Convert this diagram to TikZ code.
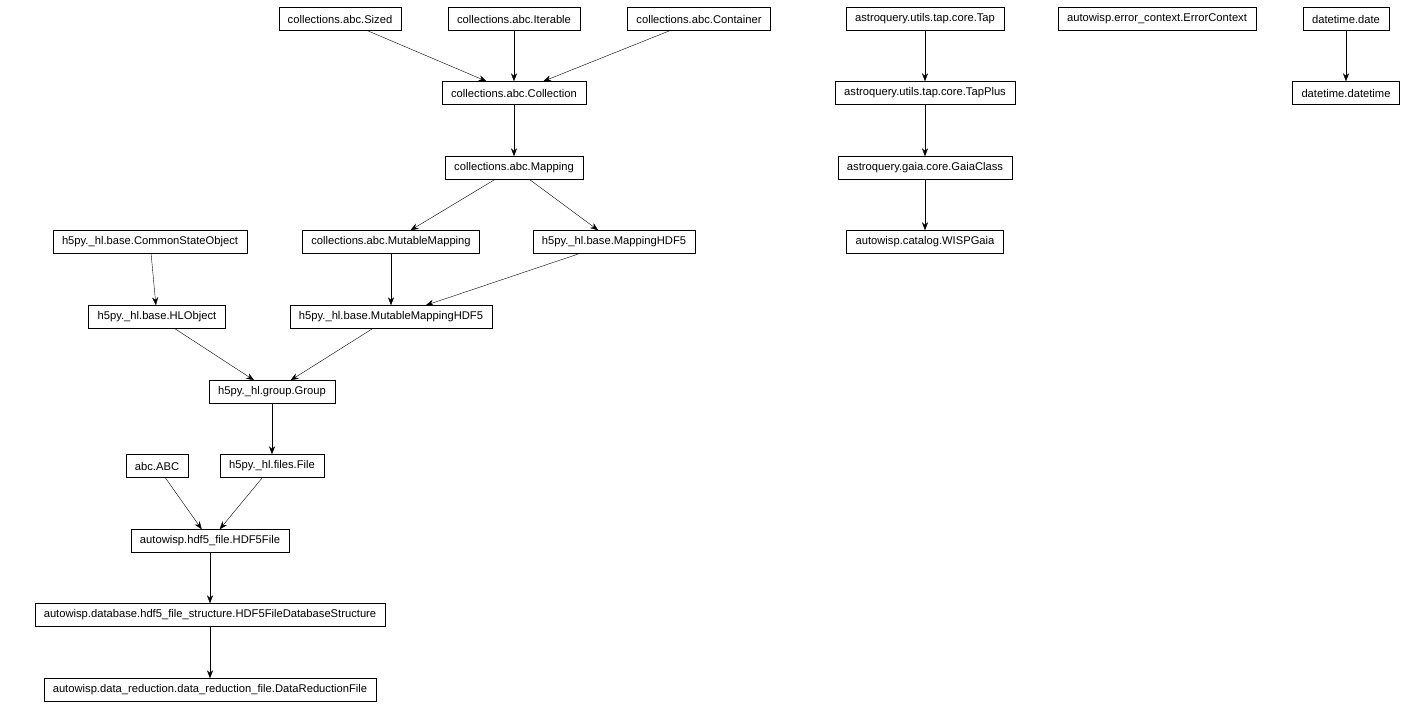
\documentclass[tikz,border=0pt]{standalone}
\usepackage{fontspec}
\setsansfont{Liberation Sans}
\usetikzlibrary{arrows.meta}

\tikzset{
  cls/.style={draw, thin, fill=white, minimum height=23pt, inner xsep=9pt,
    font=\sffamily\fontsize{11.2}{13}\selectfont},
  inh/.style={-{Stealth[length=8pt,width=6pt]}, thin}
}

\begin{document}
\begin{tikzpicture}[x=1pt, y=-1pt]

    \useasboundingbox (0,0) rectangle (1415,709);

    % Define nodes
    \node[cls] (sized)     at (340,19)  {collections.abc.Sized};
    \node[cls] (iterable)  at (514,19)  {collections.abc.Iterable};
    \node[cls] (container) at (699,19)  {collections.abc.Container};
    \node[cls] (tap)       at (925,19)  {astroquery.utils.tap.core.Tap};
    \node[cls] (errctx)    at (1157,19) {autowisp.error\_context.ErrorContext};
    \node[cls] (date)      at (1346,19) {datetime.date};

    \node[cls] (collection) at (514,93)  {collections.abc.Collection};
    \node[cls] (tapplus)    at (925,93)  {astroquery.utils.tap.core.TapPlus};
    \node[cls] (datetime)   at (1346,93) {datetime.datetime};

    \node[cls] (mapping) at (514,168) {collections.abc.Mapping};
    \node[cls] (gaia)    at (925,168) {astroquery.gaia.core.GaiaClass};

    \node[cls] (common)   at (150,242) {h5py.\_hl.base.CommonStateObject};
    \node[cls] (mutmap)   at (391,242) {collections.abc.MutableMapping};
    \node[cls] (maphdf)   at (614,242) {h5py.\_hl.base.MappingHDF5};
    \node[cls] (wispgaia) at (925,242) {autowisp.catalog.WISPGaia};

    \node[cls] (hlobject) at (157,317) {h5py.\_hl.base.HLObject};
    \node[cls] (mutmaphdf) at (391,317) {h5py.\_hl.base.MutableMappingHDF5};

    \node[cls] (group) at (272,392) {h5py.\_hl.group.Group};

    \node[cls] (abc)  at (157,466) {abc.ABC};
    \node[cls] (file) at (272,466) {h5py.\_hl.files.File};

    \node[cls] (hdffile) at (210,541) {autowisp.hdf5\_file.HDF5File};
    \node[cls] (dbstruct) at (210,615) {autowisp.database.hdf5\_file\_structure.HDF5FileDatabaseStructure};
    \node[cls] (drfile)  at (210,690) {autowisp.data\_reduction.data\_reduction\_file.DataReductionFile};

    % Connect the nodes
    \foreach \a/\b in {sized/collection, iterable/collection, container/collection,
                       collection/mapping, mapping/mutmap, mapping/maphdf,
                       mutmap/mutmaphdf, maphdf/mutmaphdf, common/hlobject,
                       hlobject/group, mutmaphdf/group, group/file,
                       abc/hdffile, file/hdffile, hdffile/dbstruct, dbstruct/drfile,
                       tap/tapplus, tapplus/gaia, gaia/wispgaia, date/datetime}
      \draw[inh] (\a) -- (\b);

\end{tikzpicture}
\end{document}
